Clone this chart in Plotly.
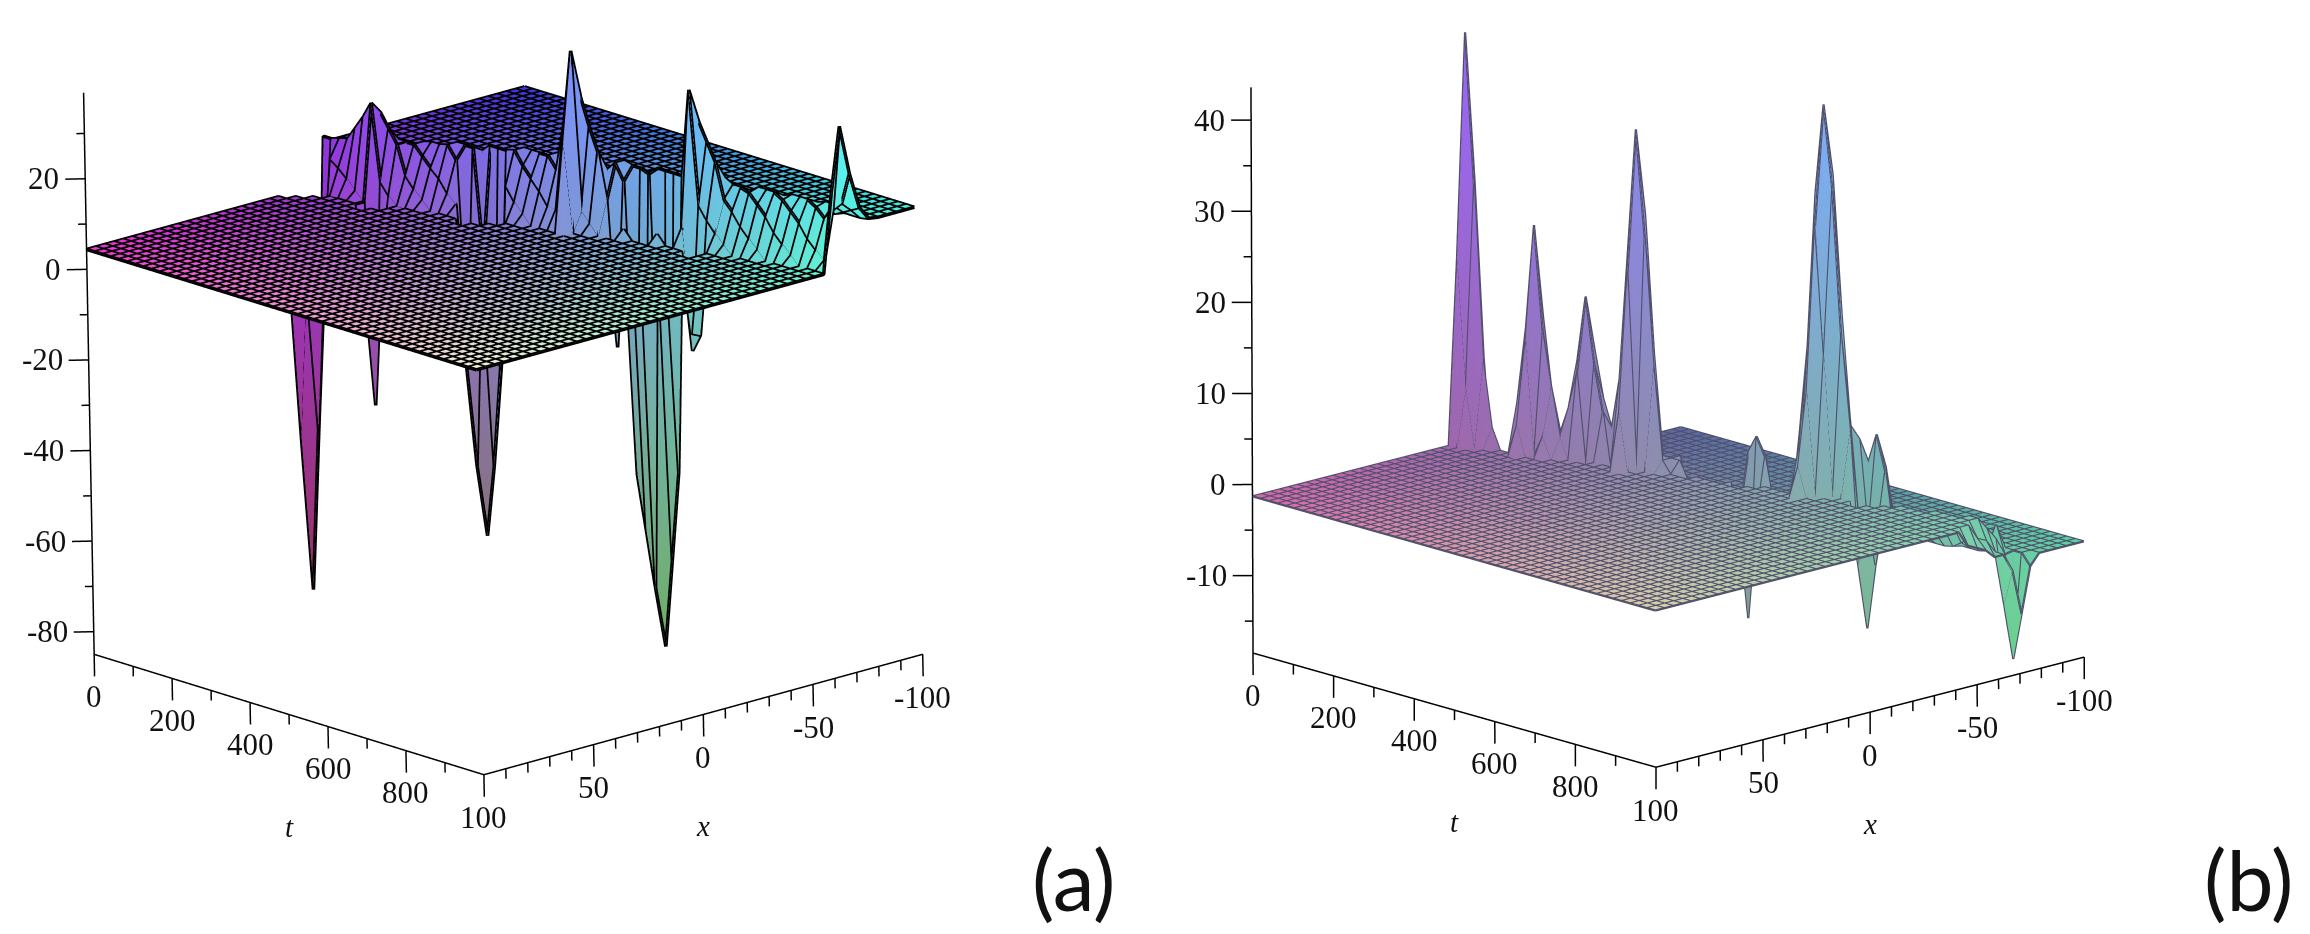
import math
import numpy as np
import plotly.graph_objects as go

# ---------- data ----------
t_major = [0, 200, 400, 600, 800]
t_labels = ["0", "200", "400", "600", "800"]
x_major = [100, 50, 0, -50, -100]
x_labels = ["100", "50", "0", "-50", "-100"]
z_major_a = [20, 0, -20, -40, -60, -80]
z_major_b = [40, 30, 20, 10, 0, -10]

t_grid = np.linspace(0, 1000, 49)
x_grid = np.linspace(100, -100, 49)

ridge_position = [24.0, 24.3, 24.7, 25.0, 25.3, 25.7, 26.0, 26.3, 26.7, 27.0, 27.4, 27.7, 28.0, 28.4, 28.7, 29.0, 29.4,
                  29.7, 30.0, 30.4, 30.7, 31.0, 31.4, 31.7, 32.0, 32.4, 32.7, 33.0, 33.4, 33.7, 34.1, 34.4, 34.7, 35.1,
                  35.4, 35.7, 36.1, 36.4, 36.7, 37.1, 37.4, 37.7, 38.1, 38.4, 38.7, 39.1, 39.4, 39.7, 40.1]

front_level_a, rear_level_a = 4.4, 13.7
wall_top_a = [15, 15, 15.5, 16, 16, 16.5, 16.5, 17, 17, 17, 17.5, 17.5, 18, 18, 18, 18.5, 18.5, 18.5, 19, 19, 19, 19,
              19.5, 19.5, 19.5, 19.5, 19.5, 19.5, 19, 19, 19, 19, 19, 18.5, 18.5, 18.5, 18.5, 18, 18, 18, 18, 18,
              17.5, 17.5, 17.5, 17, 17, 17, 17]
spike_j_a = [0, 1, 0, 0, 1, 1, 2, 0,
             7, 7, 8, 6, 5, 4, 6, 7, 8,
             16, 15, 17, 16, 16, 14, 18, 15, 17, 16, 15, 17,
             24, 24, 25, 26, 26, 23, 24, 23,
             31, 31, 30, 29, 28, 32, 33, 35, 36, 36,
             34, 34, 35, 36, 36, 33,
             48, 47, 48, 48, 47]
spike_i_a = [24, 24, 23, 25, 23, 25, 24, 22,
             25, 24, 25, 26, 26, 26, 27, 27, 27,
             29, 29, 29, 28, 30, 29, 29, 28, 30, 27, 30, 28,
             32, 33, 33, 33, 34, 32, 31, 31,
             35, 34, 34, 34, 33, 35, 35, 35, 35, 34,
             36, 37, 37, 37, 38, 36,
             40, 40, 39, 41, 41]
spike_z_a = [-84, -48, -50, -46, -15, -14, -12, -12,
             -40, -12, -10, 25.6, 22, 19, 23, 20, 17,
             -66, -50, -50, -50, -48, -28, -28, -30, -28, -26, -5, -5,
             43.8, 33, 27, 22, 17.5, 27, 24, 8.7,
             -85.5, -72, -60, -48, -20, -66, -46, -18, -14, -13,
             38.5, 31, 27, 23, 19, 19,
             36, 17, 22, 25, 18]

front_level_b, rear_level_b = -1.3, -5.8
wall_top_b = [-5.8] * 49
spike_j_b = [0, 1, 0, 0, 2, 1, 0, 1, 3,
             6, 5, 7, 6, 6, 4, 5, 7, 6, 6, 8, 8, 8, 9,
             10, 9, 11, 10, 10, 8, 12, 9, 11,
             15, 14, 16, 15, 15, 13, 17, 14, 16, 15, 15, 12, 18, 18, 17, 19, 18, 18,
             31, 30, 32, 31, 31, 29, 33, 30, 32, 31, 31, 30, 32, 28, 34, 29, 33, 31, 31, 33, 34, 33, 34, 35, 25, 24, 26, 25,
             25, 24, 26, 25,
             36, 35, 37, 36, 36,
             47, 48, 47, 46, 48, 48, 45, 46, 47, 48, 48, 48, 48, 48, 47, 47]
spike_i_b = [24, 24, 25, 23, 24, 25, 26, 23, 24,
             26, 26, 26, 25, 27, 26, 25, 27, 24, 28, 26, 25, 27, 26,
             28, 28, 28, 27, 29, 28, 28, 27, 29,
             29, 29, 29, 28, 30, 29, 29, 28, 30, 27, 31, 29, 29, 30, 30, 30, 29, 31,
             35, 35, 35, 34, 36, 35, 35, 34, 36, 33, 37, 36, 34, 35, 35, 34, 36, 32, 38, 37, 38, 38, 39, 38, 33, 33, 33, 34,
             32, 32, 32, 31,
             35, 35, 35, 34, 36,
             41, 41, 40, 41, 42, 40, 41, 40, 39, 39, 38, 37, 36, 35, 38, 37]
spike_z_b = [43.6, 27, 27, 19, 8, 8, 6, 5, 1,
             23.5, 12, 12, 11, 13, 3, 4, 5, 2, 4, 6.2, 1, 1, 1,
             16.2, 9, 9, 8, 10, 3, 4, 4, 5,
             35.6, 22, 24, 20, 26, 8, 10, 8, 11, 5, 9, 2, 3, 0, 0, 0, 0, 0,
             41, 31, 32, 28, 33, 14, 16, 13, 18, 10, 14, 17, 14, 4, 6, 3, 6, 2, 4, 4.3, 4.8, 1.5, 1, 1, 3.5, 1.5, 1.5, 1,
             -16.2, -5, -5, -6,
             -15.2, -8, -8, -8, -5,
             -17.2, -12, -11, -6, -7, -7, -3, -4, -5, -5, -5, -4, -3.5, -3, -3.5, -3]


# ---------- helpers ----------
def build_surface(front, rear, top, sj, si, sz):
    z = np.full((len(t_grid), len(x_grid)), float(front))
    for j, pos in enumerate(ridge_position):
        for i in range(len(x_grid)):
            if i <= pos + 1:
                z[j, i] = front + (top[j] - front) * min(max((i - pos + 1) / 2, 0), 1)
            elif i <= pos + 2:
                z[j, i] = top[j]
            else:
                z[j, i] = top[j] + (rear - top[j]) * min(i - pos - 2, 1)
    for j, i, v in zip(sj, si, sz):
        z[j, i] = v
    return z


def vertex_colors(z, zlo, zhi, tone):
    (r0, r1), (g0, g1), (b0, b1) = tone
    out = []
    for j, t in enumerate(t_grid):
        for i, x in enumerate(x_grid):
            r = r0 + r1 * (x + 100) / 200
            g = g0 + g1 * t / 1000
            b = b0 + b1 * min(max((z[j, i] - zlo) / (zhi - zlo), 0), 1)
            out.append("rgb(%d,%d,%d)" % (r * 255, g * 255, min(b, 1) * 255))
    return out


H = 934
S = H / 2   # pixels per scene unit of an orthographic scene that fills the height


def panel(name, z, zlo, zhi, z_major, z_minor_step, view, tone, line_color, line_width, axis_width):
    alpha, phi, roll, cube, zpx, ax_px, dom = view
    a, p, rl = map(math.radians, (alpha, phi, roll))
    c, s = math.cos(a), math.sin(a)
    px_t = cube / 1000
    px_x = cube / 200
    pz = zpx / math.cos(p)

    pad_t, pad_x = 34 / px_t, 34 / px_x
    tr = [-pad_t, 1000 + pad_t]
    xr = [100 + pad_x, -100 - pad_x]
    zr = [zlo - 40 / zpx, max(zhi, float(np.max(z))) + 1]

    asp = np.array([(tr[1] - tr[0]) * px_t, (xr[0] - xr[1]) * px_x, (zr[1] - zr[0]) * pz]) / S

    def norm(tv, xv, zv):
        return np.array([
            asp[0] * ((tv - tr[0]) / (tr[1] - tr[0]) - 0.5),
            asp[1] * ((xr[0] - xv) / (xr[0] - xr[1]) - 0.5),
            asp[2] * ((zv - zr[0]) / (zr[1] - zr[0]) - 0.5)])

    view_dir = np.array([s * math.cos(p), -c * math.cos(p), math.sin(p)])
    right0 = np.array([c, s, 0.0])
    up0 = np.cross(view_dir, right0)
    right = math.cos(rl) * right0 - math.sin(rl) * up0
    upv = math.sin(rl) * right0 + math.cos(rl) * up0

    dom_cx = (dom[0] + dom[1]) / 2 * 2310
    tx = ax_px[0] - dom_cx
    ty = H / 2 - ax_px[1]
    centre = norm(0, 100, zlo) - tx / S * right - ty / S * upv
    eye = centre + 2.0 * view_dir
    up_axis = np.array([0, 0, 1.0]) * math.cos(rl) + right0 * math.sin(rl)

    verts_t, verts_x, verts_z, ii, jj, kk = [], [], [], [], [], []
    n_t, n_x = len(t_grid), len(x_grid)
    for j in range(n_t):
        for i in range(n_x):
            verts_t.append(t_grid[j]); verts_x.append(x_grid[i]); verts_z.append(z[j, i])
    for j in range(n_t - 1):
        for i in range(n_x - 1):
            q = j * n_x + i
            ii += [q, q + 1]; jj += [q + 1, q + n_x + 1]; kk += [q + n_x, q + n_x]

    traces = [go.Mesh3d(x=verts_t, y=verts_x, z=verts_z, i=ii, j=jj, k=kk,
                        vertexcolor=vertex_colors(z, zlo, zhi, tone),
                        lighting=dict(ambient=1, diffuse=0, specular=0, fresnel=0, roughness=1),
                        flatshading=False, hoverinfo="skip", showscale=False, scene=name)]

    wt, wx, wz = [], [], []
    for j in range(n_t):
        wt += list(t_grid[j] * np.ones(n_x)) + [None]
        wx += list(x_grid) + [None]
        wz += list(z[j, :]) + [None]
    for i in range(n_x):
        wt += list(t_grid) + [None]
        wx += list(x_grid[i] * np.ones(n_t)) + [None]
        wz += list(z[:, i]) + [None]
    traces.append(go.Scatter3d(x=wt, y=wx, z=wz, mode="lines",
                               line=dict(color=line_color, width=line_width),
                               hoverinfo="skip", showlegend=False, scene=name))

    lt, lx, lz = [], [], []

    def seg(p0, p1):
        lt.extend([p0[0], p1[0], None]); lx.extend([p0[1], p1[1], None]); lz.extend([p0[2], p1[2], None])

    seg((0, 100, zlo), (1000, 100, zlo))
    seg((1000, 100, zlo), (1000, -100, zlo))
    seg((0, 100, zlo), (0, 100, zhi))
    for tv in range(0, 1001, 100):
        ln = 22 if tv % 200 == 0 else 10
        seg((tv, 100, zlo), (tv, 100, zlo - ln / zpx))
    for xv in range(-100, 101, 10):
        ln = 22 if xv % 50 == 0 else 10
        seg((1000, xv, zlo), (1000, xv, zlo - ln / zpx))
    zv = math.ceil(zlo / z_minor_step) * z_minor_step
    while zv <= zhi:
        ln = 20 if zv in z_major else 8
        seg((0, 100, zv), (-c * ln / px_t, 100 + s * ln / px_x, zv))
        zv += z_minor_step
    traces.append(go.Scatter3d(x=lt, y=lx, z=lz, mode="lines",
                               line=dict(color="black", width=axis_width),
                               hoverinfo="skip", showlegend=False, scene=name))

    font = dict(family="Liberation Serif", size=31, color="#111111")
    anns = []
    for tv, lab in zip(t_major, t_labels):
        anns.append(dict(x=tv, y=100, z=zlo, text=lab, showarrow=False, yshift=-42, font=font))
    for xv, lab in zip(x_major, x_labels):
        anns.append(dict(x=1000, y=xv, z=zlo, text=lab, showarrow=False, yshift=-43, font=font))
    for zv in z_major:
        anns.append(dict(x=0, y=100, z=zv, text=str(zv), showarrow=False, xanchor="right", xshift=-24, font=font))
    tf = dict(family="Liberation Serif", size=29, color="#111111", style="italic")
    anns.append(dict(x=500, y=100, z=zlo, text="t", showarrow=False, yshift=-112, font=tf))
    anns.append(dict(x=1000, y=0, z=zlo, text="x", showarrow=False, yshift=-112, font=tf))

    hidden = dict(showline=False, showgrid=False, zeroline=False, showbackground=False, showticklabels=False,
                  ticks="", title=dict(text=""), showspikes=False)
    scene = dict(domain=dict(x=list(dom), y=[0, 1]), dragmode="orbit",
                 xaxis=dict(range=tr, **hidden),
                 yaxis=dict(range=xr, **hidden),
                 zaxis=dict(range=zr, **hidden),
                 aspectmode="manual",
                 aspectratio=dict(x=asp[0], y=asp[1], z=asp[2]),
                 camera=dict(projection=dict(type="orthographic"),
                             center=dict(x=centre[0], y=centre[1], z=centre[2]),
                             eye=dict(x=eye[0], y=eye[1], z=eye[2]),
                             up=dict(x=up_axis[0], y=up_axis[1], z=up_axis[2])),
                 annotations=anns)
    return traces, scene


za = build_surface(front_level_a, rear_level_a, wall_top_a, spike_j_a, spike_i_a, spike_z_a)
zb = build_surface(front_level_b, rear_level_b, wall_top_b, spike_j_b, spike_i_b, spike_z_b)

ta, sa = panel("scene", za, -85, 39, z_major_a, 10,
               (48.7, 16.83, 1.03, 587, 4.53, (94, 654), (0, 1016 / 2310)),
               ((0.25, 0.70), (0.20, 0.75), (0.40, 0.60)), "black", 7.0, 3.0)
tb, sb = panel("scene2", zb, -18.5, 43.6, z_major_b, 5,
               (46.8, 15.65, 0.2, 588, 9.11, (1253, 653), (1028 / 2310, 1)),
               ((0.35, 0.50), (0.40, 0.42), (0.55, 0.45)), "#50506a", 4.5, 3.0)

fig = go.Figure(ta + tb)
paper_font = dict(family="Lato", size=84, color="#111111")
fig.update_layout(width=2310, height=934, margin=dict(l=0, r=0, t=0, b=0), paper_bgcolor="white",
                  showlegend=False, scene=sa, scene2=sb,
                  annotations=[
                      dict(x=1074 / 2310, y=1 - 878 / 934, xref="paper", yref="paper", text="(a)", showarrow=False,
                           xanchor="center", yanchor="middle", font=paper_font),
                      dict(x=2248 / 2310, y=1 - 878 / 934, xref="paper", yref="paper", text="(b)", showarrow=False,
                           xanchor="center", yanchor="middle", font=paper_font)])

fig.write_html("out.html", config=dict(displayModeBar=False),
               post_script="document.body.style.margin='0';document.body.style.overflow='hidden';")
